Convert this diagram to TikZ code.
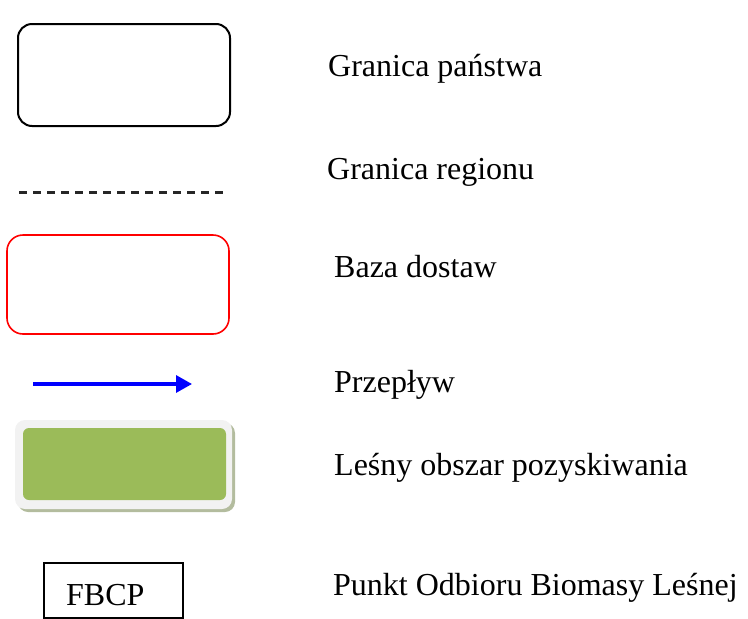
\documentclass[tikz,border=0pt]{standalone}
\usepackage{fontspec}
\setmainfont{Liberation Serif}
\usetikzlibrary{arrows.meta}
\definecolor{leafgreen}{HTML}{9BBB59}
\definecolor{rimgray}{HTML}{F2F2F2}
\definecolor{shadegreen}{HTML}{B3BC9E}
\begin{document}
\begin{tikzpicture}[x=1pt,y=-1pt,
  legendtext/.style={anchor=base west,inner sep=0pt,font=\fontsize{32}{38}\selectfont},
  boxshape/.style={inner sep=0pt,outer sep=0pt,rounded corners=#1},
  boxshape/.default=14pt]
\useasboundingbox (0,0) rectangle (748,619);

% country border sample
\node[boxshape=14pt,draw=black,line width=2pt,minimum width=212pt,minimum height=102pt] (country) at (124,75) {};
\node[legendtext] (countrytxt) at (328,76) {Granica państwa};

% regional border sample
\coordinate (dashA) at (19,192);
\coordinate (dashB) at (223,192);
\draw[line width=3pt,black!85,dash pattern=on 8pt off 6pt] (dashA) -- (dashB);
\node[legendtext] (regiontxt) at (327,179) {Granica regionu};

% supply base sample
\node[boxshape=16pt,draw=red,line width=1.6pt,minimum width=222pt,minimum height=99pt] (base) at (118,284.5) {};
\node[legendtext] (basetxt) at (334,277) {Baza dostaw};

% flow arrow sample
\coordinate (flowA) at (33,384);
\coordinate (flowB) at (192,384);
\draw[blue,line width=3.2pt,-{Triangle[length=16pt,width=17pt]}] (flowA) -- (flowB);
\node[legendtext] (flowtxt) at (334,392) {Przepływ};

% forest harvesting area sample
\node[boxshape=10pt,fill=shadegreen,minimum width=217pt,minimum height=89pt] (forestshadow) at (126.5,467.5) {};
\node[boxshape=10pt,fill=rimgray,minimum width=217pt,minimum height=89pt] (forestrim) at (123.5,464.5) {};
\node[boxshape=6pt,fill=leafgreen,minimum width=203pt,minimum height=72pt] (forest) at (124.5,464) {};
\node[legendtext] (foresttxt) at (334,475) {Leśny obszar pozyskiwania};

% collection point sample
\node[inner sep=0pt,outer sep=0pt,draw=black,line width=1.5pt,minimum width=139pt,minimum height=55pt] (fbcp) at (113.5,590.5) {};
\node[legendtext] (fbcplabel) at (66,605) {FBCP};
\node[legendtext] (fbcptxt) at (333,595) {Punkt Odbioru Biomasy Leśnej};
\end{tikzpicture}
\end{document}
